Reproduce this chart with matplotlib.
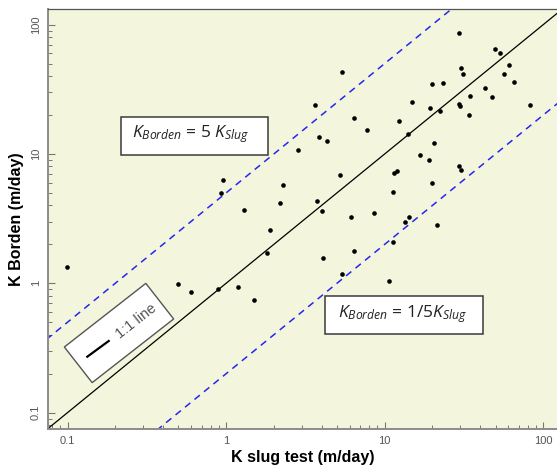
import matplotlib
matplotlib.use("Agg")
import matplotlib.pyplot as plt
import matplotlib.patches as mpatches
import matplotlib.lines as mlines
from matplotlib.ticker import LogLocator, FuncFormatter, NullFormatter
import numpy as np

# ---- data ----
k_slug = [29.4, 49.8, 53.3, 60.8, 30.4, 31.3, 56.5, 5.34, 20.0, 23.3, 65.6, 42.9,
          47.7, 34.5, 3.66, 14.8, 19.3, 29.5, 29.8, 82.0, 22.2, 33.8, 6.36, 12.3,
          7.76, 3.86, 4.34, 14.1, 2.85, 20.4, 16.6, 19.1, 29.5, 30.4, 2.29, 5.24,
          11.4, 12.0, 19.9, 2.18, 3.75, 4.03, 11.3, 6.15, 8.59, 14.3, 13.4, 21.5,
          4.09, 6.36, 11.2, 5.34, 10.7, 0.961, 0.934, 1.29, 1.90, 0.0997, 0.496,
          0.604, 0.894, 1.18, 1.50, 1.80]
k_borden = [85.8, 64.9, 60.7, 49.1, 46.2, 41.6, 41.3, 42.8, 34.6, 35.4, 36.2, 32.2,
            27.7, 28.2, 24.1, 25.2, 22.7, 24.4, 23.5, 24.1, 21.5, 19.9, 19.1, 18.0,
            15.3, 13.5, 12.5, 14.2, 10.7, 12.1, 9.82, 9.03, 8.08, 7.52, 5.76, 6.84,
            7.13, 7.39, 5.97, 4.20, 4.31, 3.60, 5.11, 3.24, 3.48, 3.27, 2.99, 2.82,
            1.58, 1.79, 2.08, 1.17, 1.04, 6.29, 4.97, 3.67, 2.58, 1.34, 0.982,
            0.861, 0.899, 0.931, 0.739, 1.72]
ref_ratios = [5.0, 0.2]
x_range = [0.0753, 122.0]
y_range = [0.0747, 132.0]
major_ticks = [0.1, 1, 10, 100]
x_label = "K slug test (m/day)"
y_label = "K Borden (m/day)"
box_upper = "$K_{Borden}$ = 5 $K_{Slug}$"
box_lower = "$K_{Borden}$ = 1/5$K_{Slug}$"
legend_text = "1:1 line"

plt.rcParams['mathtext.fontset'] = 'custom'
plt.rcParams['mathtext.it'] = 'Open Sans:italic'
plt.rcParams['mathtext.rm'] = 'Open Sans'
plt.rcParams['font.family'] = ['Liberation Sans', 'DejaVu Sans']

W, H = 557, 468
fig = plt.figure(figsize=(W / 100, H / 100), dpi=100)
L, R, T, B = 48, 557, 9, 429
ax = fig.add_axes([L / W, 1 - B / H, (R - L) / W, (B - T) / H])
ax.set_facecolor('#F3F6DC')
ax.set_xscale('log')
ax.set_yscale('log')
ax.set_xlim(*x_range)
ax.set_ylim(*y_range)

# reference lines
xx = np.array([1e-3, 1e3])
ax.plot(xx, xx, color='black', lw=0.9, zorder=2)
for r in ref_ratios:
    ax.plot(xx, xx * r, color='#2626F0', lw=1.1, dashes=(4.5, 3.5), zorder=2)

ax.scatter(k_slug, k_borden, s=11, color='black', zorder=3, linewidths=0)

# ticks
for axis in (ax.xaxis, ax.yaxis):
    axis.set_major_locator(LogLocator(base=10, numticks=10))
    axis.set_minor_locator(LogLocator(base=10, subs=np.arange(2, 10), numticks=20))
    axis.set_major_formatter(FuncFormatter(lambda v, p: '%g' % v if v in major_ticks else ''))
    axis.set_minor_formatter(NullFormatter())
ax.tick_params(which='major', direction='in', length=5, width=0.8, color='#777777',
               labelsize=8, labelcolor='#555555')
ax.tick_params(which='minor', direction='in', length=2.7, width=0.7, color='#777777')
ax.tick_params(axis='x', which='major', pad=5)
ax.tick_params(axis='y', which='major', pad=5, labelrotation=90)
for lab in ax.get_yticklabels():
    lab.set_va('center')

for side in ('left', 'bottom'):
    ax.spines[side].set_color('#8C8C8C')
    ax.spines[side].set_linewidth(1.4)
ax.spines['top'].set_color('#555555')
ax.spines['top'].set_linewidth(0.9)
ax.spines['right'].set_visible(False)

ax.set_xlabel(x_label, fontsize=11.5, fontweight='bold', labelpad=3)
ax.set_ylabel(y_label, fontsize=11.5, fontweight='bold', labelpad=5)

# text boxes (pixel positions -> inches)
def box(x0, y0, x1, y1, text, tx, ty, fs):
    rect = mpatches.Rectangle((x0 / 100, (H - y1) / 100), (x1 - x0) / 100, (y1 - y0) / 100,
                              transform=fig.dpi_scale_trans, facecolor='white',
                              edgecolor='#3A3A3A', lw=1.1, zorder=5)
    fig.add_artist(rect)
    fig.text(tx / 100, (H - ty) / 100, text, transform=fig.dpi_scale_trans,
             ha='center', va='center', fontsize=fs, family='Open Sans',
             color='#222222', zorder=6)

box(120.7, 116.7, 267.7, 154.7, box_upper, 191, 134, 12.5)
box(324.7, 296, 482.7, 334, box_lower, 403, 314, 12.5)

# rotated 1:1 legend box
ang = 38
cx, cy = 119 / 100, (H - 333) / 100
bw, bh = 103.4 / 100, 45.2 / 100
leg = mpatches.Rectangle((cx - bw / 2, cy - bh / 2), bw, bh, angle=ang,
                         rotation_point='center', transform=fig.dpi_scale_trans,
                         facecolor='white', edgecolor='#555555', lw=1.0, zorder=5)
fig.add_artist(leg)
ln = mlines.Line2D([87.3 / 100, 108.7 / 100], [(H - 356.7) / 100, (H - 341) / 100],
                   transform=fig.dpi_scale_trans, color='black', lw=1.6, zorder=6)
fig.add_artist(ln)
fig.text(136.7 / 100, (H - 321.7) / 100, legend_text, transform=fig.dpi_scale_trans,
         rotation=ang, rotation_mode='anchor', ha='center', va='center',
         fontsize=10.5, color='#555555', zorder=6)

fig.savefig('out.png', dpi=100)
